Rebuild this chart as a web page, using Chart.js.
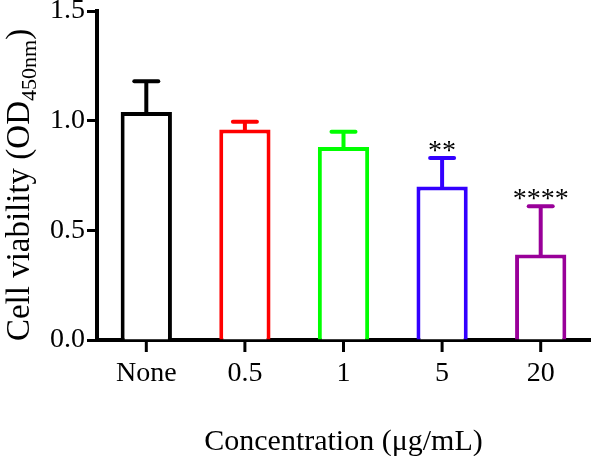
<!DOCTYPE html>
<html>
<head>
<meta charset="utf-8">
<script src="https://cdn.jsdelivr.net/npm/chart.js@4/dist/chart.umd.min.js"></script>
<style>
  html, body { margin: 0; padding: 0; background: #fff; }
  #wrap { width: 594px; height: 456px; position: relative; }
</style>
</head>
<body>
<div id="wrap"><canvas id="chart1"></canvas></div>
<script>
// data
const categories = ['None', '0.5', '1', '5', '20'];
const viability = [1.04, 0.96, 0.88, 0.70, 0.39];
const sdUpper = [0.14, 0.035, 0.07, 0.13, 0.22];
const significance = ['', '', '', '**', '****'];
const yTicks = [0, 0.5, 1.0, 1.5];
const barColors = ['#000000', '#ff0000', '#00ff00', '#3300ff', '#990099'];

const serif = "'Liberation Serif', 'Times New Roman', serif";

// error bars (upper only) and the stars above them
const errorBars = {
    id: 'errorBars',
    afterDatasetsDraw(chart) {
        const ctx = chart.ctx;
        const meta = chart.getDatasetMeta(0);
        const y = chart.scales.y;
        ctx.save();
        meta.data.forEach((bar, i) => {
            const top = y.getPixelForValue(viability[i] + sdUpper[i]);
            ctx.strokeStyle = barColors[i];
            ctx.lineWidth = 4;
            ctx.lineCap = 'butt';
            ctx.beginPath();
            ctx.moveTo(bar.x, bar.y + 2);
            ctx.lineTo(bar.x, top);
            ctx.stroke();
            ctx.lineCap = 'round';
            ctx.beginPath();
            ctx.moveTo(bar.x - 12, top);
            ctx.lineTo(bar.x + 12, top);
            ctx.stroke();
            if (significance[i]) {
                ctx.fillStyle = '#000';
                ctx.font = '28px ' + serif;
                ctx.textAlign = 'center';
                ctx.textBaseline = 'alphabetic';
                ctx.fillText(significance[i], bar.x, top + 1);
            }
        });
        ctx.restore();
    }
};

// x tick marks under each label (the category grid puts them between bars)
const xTickMarks = {
    id: 'xTickMarks',
    afterDraw(chart) {
        const ctx = chart.ctx;
        const x = chart.scales.x;
        const y0 = chart.chartArea.bottom;
        ctx.save();
        ctx.strokeStyle = '#000';
        ctx.lineWidth = 3;
        categories.forEach((c, i) => {
            const px = x.getPixelForValue(i);
            ctx.beginPath();
            ctx.moveTo(px, y0);
            ctx.lineTo(px, y0 + 12);
            ctx.stroke();
        });
        ctx.restore();
    }
};

// y title with the subscript
const yTitle = {
    id: 'yTitle',
    afterDraw(chart) {
        const ctx = chart.ctx;
        const main = 'Cell viability (OD';
        const sub = '450nm';
        const close = ')';
        ctx.save();
        ctx.fillStyle = '#000';
        ctx.textBaseline = 'alphabetic';
        ctx.font = '33px ' + serif;
        const w1 = ctx.measureText(main).width;
        const w3 = ctx.measureText(close).width;
        ctx.font = '22px ' + serif;
        const w2 = ctx.measureText(sub).width;
        const total = w1 + w2 + w3;
        ctx.translate(29, 185);
        ctx.rotate(-Math.PI / 2);
        let x = -total / 2;
        ctx.textAlign = 'left';
        ctx.font = '33px ' + serif;
        ctx.fillText(main, x, 0);
        x += w1;
        ctx.font = '22px ' + serif;
        ctx.fillText(sub, x, 7);
        x += w2;
        ctx.font = '33px ' + serif;
        ctx.fillText(close, x, 0);
        ctx.restore();
    }
};

const data = {
    labels: categories,
    datasets: [{
        data: viability,
        backgroundColor: '#ffffff',
        borderColor: barColors,
        borderWidth: 4,
        categoryPercentage: 1,
        barPercentage: 0.52
    }]
};

const config = {
    type: 'bar',
    data: data,
    options: {
        responsive: true,
        maintainAspectRatio: false,
        animation: false,
        layout: {
            padding: { top: 11, right: 4, left: 0, bottom: 0 }
        },
        scales: {
            x: {
                offset: true,
                grid: {
                    display: false,
                    drawTicks: true,
                    tickLength: 11
                },
                border: { display: true, width: 4, color: '#000' },
                ticks: {
                    color: '#000',
                    font: { family: serif, size: 28 },
                    padding: 6
                },
                title: {
                    display: true,
                    text: 'Concentration (μg/mL)',
                    color: '#000',
                    font: { family: serif, size: 30, lineHeight: 0.8 },
                    padding: { top: 0, bottom: 2 }
                },
                afterFit(scale) {
                    scale.height = 116;
                    scale.paddingLeft = 0;
                    scale.paddingRight = 0;
                }
            },
            y: {
                min: 0,
                max: 1.5,
                afterBuildTicks(scale) {
                    scale.ticks = yTicks.map(v => ({ value: v }));
                },
                grid: {
                    drawOnChartArea: false,
                    tickLength: 10,
                    tickWidth: 3,
                    color: '#000'
                },
                border: { width: 4, color: '#000' },
                ticks: {
                    color: '#000',
                    font: { family: serif, size: 28 },
                    padding: 2,
                    callback: v => v.toFixed(1)
                },
                afterFit(scale) {
                    scale.width = 97;
                    scale.paddingTop = 0;
                    scale.paddingBottom = 0;
                }
            }
        },
        plugins: {
            legend: { display: false },
            tooltip: { enabled: false }
        }
    },
    plugins: [errorBars, xTickMarks, yTitle]
};

new Chart(document.getElementById('chart1'), config);
</script>
</body>
</html>
